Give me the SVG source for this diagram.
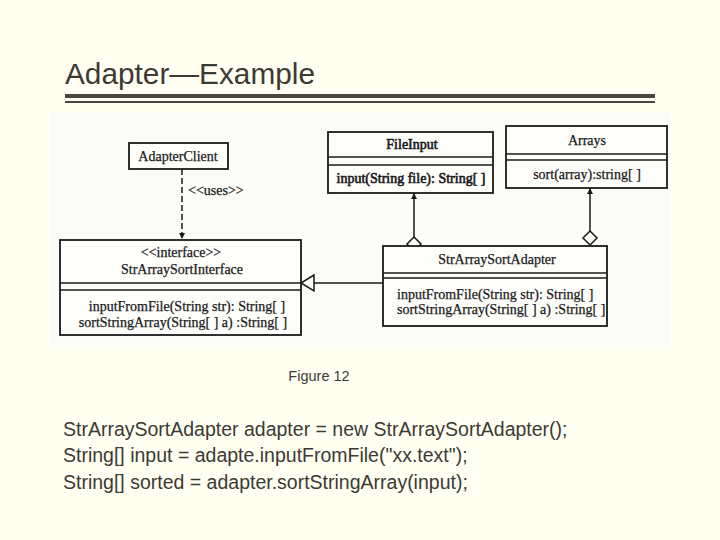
<svg xmlns="http://www.w3.org/2000/svg" width="720" height="540" viewBox="0 0 720 540">
<defs>
<marker id="arr" viewBox="0 0 10 10" refX="10" refY="5" markerWidth="6" markerHeight="7" orient="auto" markerUnits="userSpaceOnUse"><path d="M0,0 L10,5 L0,10 Z" fill="#1a1a1a"/></marker>
<style>
.box{fill:#fdfdfa;stroke:#1a1a1a;stroke-width:1.8}
.ln{stroke:#1a1a1a;stroke-width:1.5;fill:none}
.t{font-family:"Liberation Serif","Times New Roman",serif;font-size:14px;fill:#1a1a1a;stroke:#1a1a1a;stroke-width:0.25}
.c{text-anchor:middle}
.b{stroke-width:0.6}
.s{font-family:"Liberation Sans",Arial,sans-serif;fill:#3d3a34}
</style>
</defs>
<rect width="720" height="540" fill="#fffff2"/>
<rect x="50" y="112" width="620" height="234" fill="#fbfbf7"/>
<g id="title">
<text class="s" x="65" y="84" font-size="29" textLength="250" lengthAdjust="spacingAndGlyphs">Adapter—Example</text>
<rect x="65" y="94" width="590" height="4" fill="#4a463e"/>
<rect x="65" y="101" width="590" height="2" fill="#4a463e"/>
</g>
<g id="connectors">
<line class="ln" x1="182" y1="169" x2="182" y2="239" stroke-dasharray="6,3" marker-end="url(#arr)"/>
<text class="t" x="188" y="195" font-size="13">&lt;&lt;uses&gt;&gt;</text>
<line class="ln" x1="414" y1="237" x2="414" y2="193" marker-end="url(#arr)"/>
<path class="ln" d="M414,237 L421,244 L414,251 L407,244 Z" fill="#fdfdfa"/>
<line class="ln" x1="590" y1="231" x2="590" y2="188" marker-end="url(#arr)"/>
<path class="ln" d="M590,231 L597,238 L590,245 L583,238 Z" fill="#fdfdfa"/>
<line class="ln" x1="383" y1="283" x2="314" y2="283"/>
<path class="ln" d="M314,275 L301,283 L314,291 Z" fill="#fdfdfa"/>
</g>
<g id="AdapterClient">
<rect class="box" x="129" y="143" width="99" height="26"/>
<text class="t c" x="178" y="161">AdapterClient</text>
</g>
<g id="StrArraySortInterface">
<rect class="box" x="60" y="240" width="241" height="95"/>
<line class="ln" x1="60" y1="283" x2="301" y2="283"/>
<line class="ln" x1="60" y1="290" x2="301" y2="290"/>
<text class="t c" x="181" y="257" font-size="13">&lt;&lt;interface&gt;&gt;</text>
<text class="t c" x="182" y="274">StrArraySortInterface</text>
<text class="t c" x="187" y="311" font-size="15">inputFromFile(String str): String[ ]</text>
<text class="t c" x="183" y="327" font-size="15">sortStringArray(String[ ] a) :String[ ]</text>
</g>
<g id="FileInput">
<rect class="box" x="328" y="132" width="165" height="61"/>
<line class="ln" x1="328" y1="157" x2="493" y2="157"/>
<line class="ln" x1="328" y1="165" x2="493" y2="165"/>
<text class="t c b" x="412" y="149">FileInput</text>
<text class="t c b" x="411" y="183">input(String file): String[ ]</text>
</g>
<g id="Arrays">
<rect class="box" x="506" y="126" width="161" height="62"/>
<line class="ln" x1="506" y1="154" x2="667" y2="154"/>
<line class="ln" x1="506" y1="160" x2="667" y2="160"/>
<text class="t c" x="587" y="145" font-size="13">Arrays</text>
<text class="t c" x="587" y="179" font-size="13">sort(array):string[ ]</text>
</g>
<g id="StrArraySortAdapter">
<rect class="box" x="383" y="246" width="224" height="80"/>
<line class="ln" x1="383" y1="273" x2="607" y2="273"/>
<line class="ln" x1="383" y1="278" x2="607" y2="278"/>
<text class="t c" x="497" y="264" font-size="12.5">StrArraySortAdapter</text>
<text class="t" x="397" y="299" font-size="13.5">inputFromFile(String str): String[ ]</text>
<text class="t" x="397" y="314" font-size="13.5">sortStringArray(String[ ] a) :String[ ]</text>
</g>
<g id="caption">
<text class="s" x="319" y="381" font-size="14.5" text-anchor="middle">Figure 12</text>
<text class="s" x="63" y="436" font-size="19.5">StrArraySortAdapter adapter = new StrArraySortAdapter();</text>
<text class="s" x="63" y="462" font-size="19.5">String[] input = adapte.inputFromFile("xx.text");</text>
<text class="s" x="63" y="489" font-size="19.5">String[] sorted = adapter.sortStringArray(input);</text>
</g>
</svg>
